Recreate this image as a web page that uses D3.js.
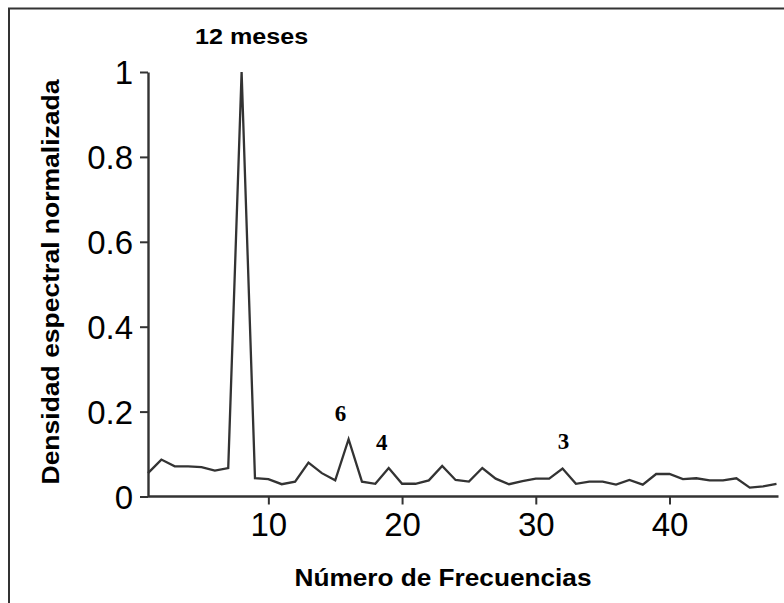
<!DOCTYPE html>
<html><head><meta charset="utf-8">
<script src="https://cdn.jsdelivr.net/npm/d3@7"></script>
<style>
html,body{margin:0;padding:0;background:#fff;}
svg{display:block;}
</style></head>
<body>
<svg id="chart" width="784" height="603"></svg>
<script>
const frecuencias = d3.range(1, 49);
const densidad = [
  0.055, 0.087, 0.071, 0.071, 0.069, 0.061, 0.067, 1.000, 0.043, 0.041,
  0.029, 0.035, 0.080, 0.055, 0.038, 0.135, 0.035, 0.030, 0.067, 0.030,
  0.030, 0.038, 0.072, 0.039, 0.035, 0.067, 0.042, 0.029, 0.036, 0.042,
  0.042, 0.066, 0.030, 0.035, 0.035, 0.028, 0.039, 0.028, 0.053, 0.053,
  0.041, 0.043, 0.038, 0.038, 0.043, 0.021, 0.024, 0.030
];
const xTicks = [10, 20, 30, 40];
const yTicks = [0, 0.2, 0.4, 0.6, 0.8, 1];
const yTickLabels = ["0", "0.2", "0.4", "0.6", "0.8", "1"];
const picos = [
  {f: 8, v: 1.0, label: "12 meses"},
  {f: 16, v: 0.135, label: "6"},
  {f: 19, v: 0.067, label: "4"},
  {f: 32, v: 0.066, label: "3"}
];
const xTitle = "Número de Frecuencias";
const yTitle = "Densidad espectral normalizada";

const svg = d3.select("#chart");
const ink = "#333";
const sans = "Liberation Sans, Arial, sans-serif";
const serif = "Liberation Serif, Times New Roman, serif";

// outer frame (top and left visible)
svg.append("rect").attr("x", 9).attr("y", 8.5).attr("width", 800).attr("height", 620)
  .attr("fill", "none").attr("stroke", ink).attr("stroke-width", 2);

const x = d3.scaleLinear().domain([1, 48]).range([148, 776.5]);
const y = d3.scaleLinear().domain([0, 1]).range([496.5, 72]);

// x axis
const xAxis = svg.append("g").attr("transform", `translate(0,${y(0)})`)
  .call(d3.axisBottom(x).tickValues(xTicks).tickSize(8).tickSizeOuter(0).tickPadding(8).tickFormat(d3.format("d")));
xAxis.select(".domain").attr("stroke", ink).attr("stroke-width", 2.4).attr("d", `M${x(1)},0H${x(48)+2}`);
xAxis.selectAll(".tick line").attr("stroke", ink).attr("stroke-width", 2);
xAxis.selectAll(".tick text").attr("fill", "#000").attr("font-family", sans)
  .attr("font-size", 33).attr("dy", "0.72em");

// y axis
const yAxis = svg.append("g").attr("transform", `translate(${x(1)},0)`)
  .call(d3.axisLeft(y).tickValues(yTicks).tickSize(8).tickSizeOuter(0).tickPadding(7)
    .tickFormat((d, i) => yTickLabels[i]));
yAxis.select(".domain").attr("stroke", ink).attr("stroke-width", 2.4);
yAxis.selectAll(".tick line").attr("stroke", ink).attr("stroke-width", 2);
yAxis.selectAll(".tick text").attr("fill", "#000").attr("font-family", sans)
  .attr("font-size", 33).attr("dy", "0.36em");

// series line
const line = d3.line().x((d, i) => x(frecuencias[i])).y(d => y(d));
svg.append("path").datum(densidad).attr("d", line)
  .attr("fill", "none").attr("stroke", ink).attr("stroke-width", 2.3).attr("stroke-linejoin", "miter");

// peak annotations
const labelPos = {
  "12 meses": {dx: 10, y: 44, size: 22, family: sans, len: 113},
  "6": {dx: -8, y: 421, size: 23, family: serif},
  "4": {dx: -7, y: 450, size: 23, family: serif},
  "3": {dx: 1, y: 449, size: 23, family: serif}
};
picos.forEach(p => {
  const s = labelPos[p.label];
  const t = svg.append("text").attr("x", x(p.f) + s.dx).attr("y", s.y)
    .attr("text-anchor", "middle").attr("font-family", s.family).attr("font-weight", "bold")
    .attr("font-size", s.size).attr("fill", "#000").text(p.label);
  if (s.len) t.attr("textLength", s.len).attr("lengthAdjust", "spacingAndGlyphs");
});

// axis titles
svg.append("text").attr("x", 443).attr("y", 586).attr("text-anchor", "middle")
  .attr("font-family", sans).attr("font-weight", "bold")
  .attr("font-size", 24).attr("fill", "#000")
  .attr("textLength", 297).attr("lengthAdjust", "spacingAndGlyphs").text(xTitle);
svg.append("text").attr("transform", "translate(59,282) rotate(-90)").attr("text-anchor", "middle")
  .attr("font-family", sans).attr("font-weight", "bold")
  .attr("font-size", 23).attr("fill", "#000")
  .attr("textLength", 405).attr("lengthAdjust", "spacingAndGlyphs").text(yTitle);
</script>
</body></html>
